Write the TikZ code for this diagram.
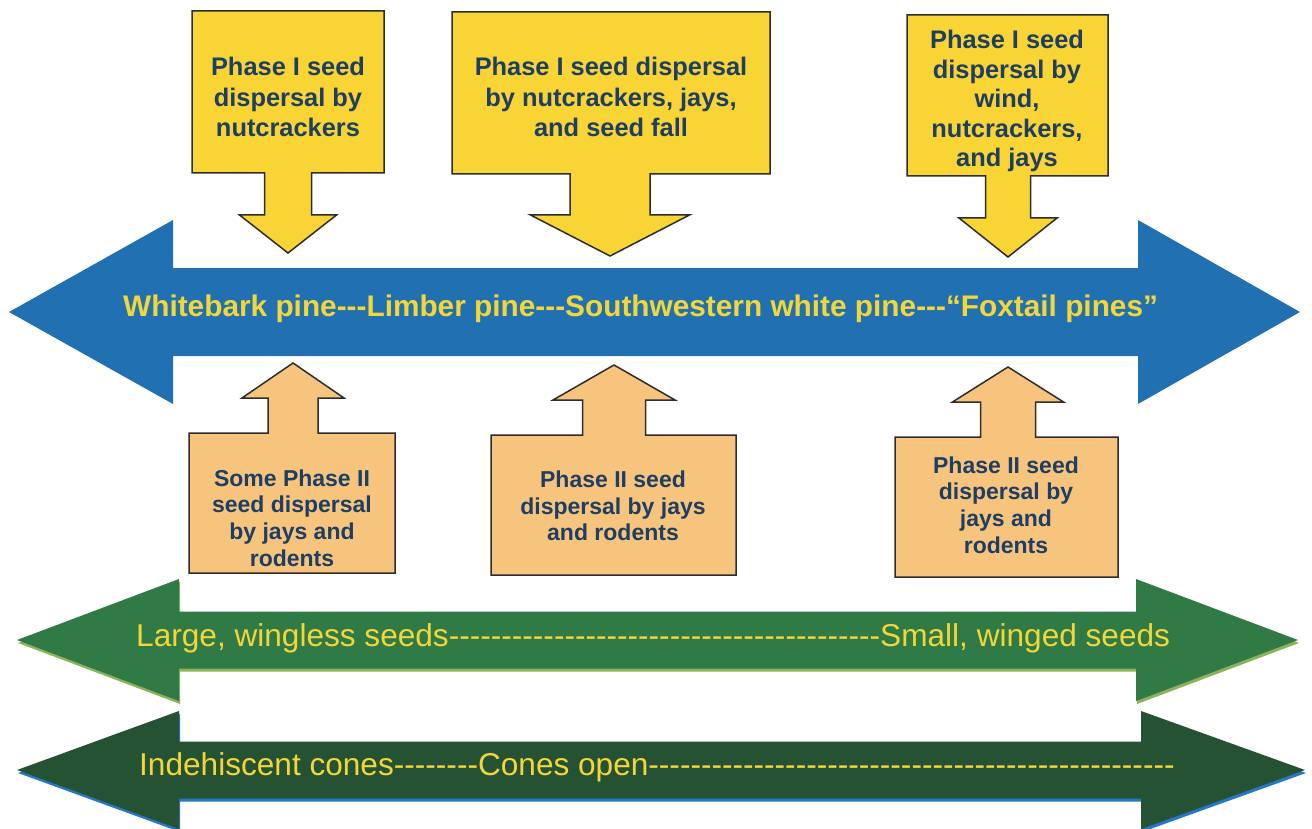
\documentclass[tikz,border=0pt]{standalone}
\usepackage{fontspec}
\setmainfont{Liberation Sans}
\definecolor{ybox}{RGB}{248,212,52}
\definecolor{obox}{RGB}{247,196,126}
\definecolor{tblue}{RGB}{30,62,98}
\definecolor{barrow}{RGB}{33,113,178}
\definecolor{atext}{RGB}{242,214,58}
\definecolor{garrow}{RGB}{48,122,70}
\definecolor{gshadow}{RGB}{140,178,92}
\definecolor{dgarrow}{RGB}{36,82,50}
\definecolor{dgshadow}{RGB}{38,120,196}
\definecolor{edgecol}{RGB}{45,45,45}
\newcommand\hy[1]{\foreach\k in {1,...,#1}{-}}
% double arrow: left tip x, left base x, right base x, right tip x, centre y, shaft half, head half
\newcommand\dblarrowpath[7]{(#1,#5) -- (#2,{#5-#7}) -- (#2,{#5-#6}) -- (#3,{#5-#6}) -- (#3,{#5-#7}) -- (#4,#5) -- (#3,{#5+#7}) -- (#3,{#5+#6}) -- (#2,{#5+#6}) -- (#2,{#5+#7}) -- cycle}
% callout: x1, y1 (far side), x2, y2 (arrow side), stem centre, stem half, head base y, head half, tip y
\newcommand\calloutpath[9]{(#1,#2) -- (#3,#2) -- (#3,#4) -- ({#5+#6},#4) -- ({#5+#6},#7) -- ({#5+#8},#7) -- (#5,#9) -- ({#5-#8},#7) -- ({#5-#6},#7) -- ({#5-#6},#4) -- (#1,#4) -- cycle}
\tikzset{
  callout/.style={draw=edgecol, line width=1.5pt, line join=miter},
  ycall/.style={callout, fill=ybox},
  ocall/.style={callout, fill=obox},
  ytext/.style={text=tblue, font=\bfseries\fontsize{25.4}{30.5}\selectfont, align=center, inner sep=0pt},
  otext/.style={text=tblue, font=\bfseries\fontsize{23}{26.7}\selectfont, align=center, inner sep=0pt},
  btext/.style={text=atext, font=\bfseries\fontsize{29.8}{34}\selectfont, inner sep=0pt, anchor=base west},
  gtext/.style={text=atext, font=\fontsize{31.6}{36}\selectfont, inner sep=0pt, anchor=base west},
}
\begin{document}
\begin{tikzpicture}[x=1pt,y=-1pt]
\useasboundingbox (0,0) rectangle (1312,829);
\fill[white] (0,0) rectangle (1312,829);

% blue double arrow
\fill[barrow] \dblarrowpath{9}{173}{1138}{1300}{312}{44}{92};
\node[btext] (tblue) at (123,316) {Whitebark pine\hy{3}Limber pine\hy{3}Southwestern white pine\hy{3}“Foxtail pines”};

% yellow callouts (down)
\path[ycall] \calloutpath{192}{11}{384}{173}{288}{23.5}{215}{48.5}{253};
\node[ytext] (y1) at (288,97) {Phase I seed\\dispersal by\\nutcrackers};
\path[ycall] \calloutpath{452}{12}{770}{174}{610}{40}{215}{79.5}{256};
\node[ytext] (y2) at (611,97) {Phase I seed dispersal\\by nutcrackers, jays,\\and seed fall};
\path[ycall] \calloutpath{907}{15}{1108}{176}{1008}{22.5}{218}{49}{257};
\node[ytext, font=\bfseries\fontsize{25.4}{29.5}\selectfont] (y3) at (1007,101) {Phase I seed\\dispersal by\\wind,\\nutcrackers,\\and jays};

% orange callouts (up)
\path[ocall] \calloutpath{189}{573}{395}{433}{293}{25}{398}{51}{363};
\node[otext] (o1) at (292,518) {Some Phase II\\seed dispersal\\by jays and\\rodents};
\path[ocall] \calloutpath{491}{575}{736}{435}{614}{31.5}{400}{61}{365};
\node[otext] (o2) at (613,506) {Phase II seed\\dispersal by jays\\and rodents};
\path[ocall] \calloutpath{895}{577}{1118}{437}{1008}{27.5}{402}{55.5}{367};
\node[otext] (o3) at (1006,505) {Phase II seed\\dispersal by\\jays and\\rodents};

% green double arrows
\fill[gshadow, shift={(1,3)}] \dblarrowpath{17}{179}{1136}{1298}{640}{28.5}{61};
\fill[garrow] \dblarrowpath{17}{179}{1136}{1298}{640}{28.5}{61};
\node[gtext] (tg1) at (136,646) {Large, wingless seeds\hy{41}Small, winged seeds};

\fill[dgshadow, shift={(1,3)}] \dblarrowpath{17}{179}{1141}{1305}{770}{28.5}{59};
\fill[dgarrow] \dblarrowpath{17}{179}{1141}{1305}{770}{28.5}{59};
\node[gtext] (tg2) at (139,775) {Indehiscent cones\hy{8}Cones open\hy{50}};
\end{tikzpicture}
\end{document}
